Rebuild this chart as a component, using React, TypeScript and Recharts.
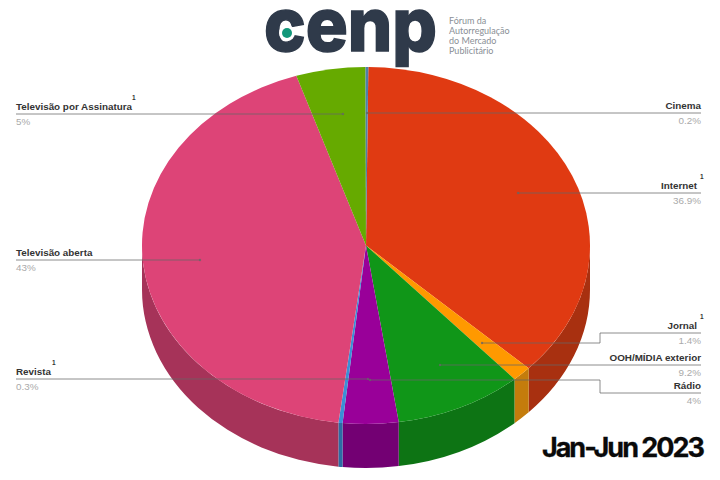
import { Pie, PieChart, Sector } from 'recharts';

const names = ['Internet', 'Jornal', 'OOH/MÍDIA exterior', 'Rádio', 'Revista', 'Televisão aberta', 'Televisão por Assinatura', 'Cinema'];
const shares = [36.9, 1.4, 9.2, 4, 0.3, 43, 5, 0.2];
const footnoted = [true, true, false, false, true, false, true, false];
const topColors = ['#E03A12', '#FF9900', '#109618', '#990099', '#3B8FD6', '#DD4477', '#66AA00', '#4F7FA8'];
const sideColors = ['#A83010', '#C47C0C', '#0D7414', '#730073', '#2C6CA4', '#A63359', '#4D8000', '#3A6080'];

const topRows = names.map((name, i) => ({ name, value: shares[i], fill: topColors[i] }));
const sideRows = names.map((name, i) => ({ name, value: shares[i], fill: sideColors[i] }));

const CX = 366;
const CY = 245.5;
const RX = 224;
const RY = 178.5;
const DEPTH = 44;
const START = 89.4;
const RIGHT_X = 701;
const LEFT_X = 16;

// leader path, dot and text level for each slice, same order as names
const leaders = [
  { d: 'M518 193H701', dot: [518, 193], y: 193, right: true, supX: 700 },
  { d: 'M482 343H600V333H701', dot: [482, 343], y: 333, right: true, supX: 700 },
  { d: 'M440 365H701', dot: [440, 365], y: 365, right: true, supX: 0 },
  { d: 'M370 380H600V393H701', dot: [370, 380], y: 393, right: true, supX: 0 },
  { d: 'M16 379H368', dot: [368, 379], y: 379, right: false, supX: 52 },
  { d: 'M16 260H200', dot: [200, 260], y: 260, right: false, supX: 0 },
  { d: 'M16 114H343', dot: [343, 114], y: 114, right: false, supX: 132 },
  { d: 'M367 113H701', dot: [367, 113], y: 113, right: true, supX: 0 },
];

const logoLines = ['Fórum da', 'Autorregulação', 'do Mercado', 'Publicitário'];

const rimPoint = (deg: number, dy = 0) => {
  const rad = (deg * Math.PI) / 180;
  return `${CX + RX * Math.cos(rad)} ${CY - RY * Math.sin(rad) + dy}`;
};

function TopSlice(props: any) {
  return (
    <g transform={`translate(${CX} ${CY}) scale(1 ${RY / RX}) translate(${-CX} ${-CY})`}>
      <Sector
        cx={CX}
        cy={CY}
        innerRadius={0}
        outerRadius={RX}
        startAngle={props.startAngle}
        endAngle={props.endAngle}
        fill={props.fill}
        stroke="none"
      />
    </g>
  );
}

function SideSlice(props: any) {
  const hi = Math.min(props.startAngle, 0);
  const lo = Math.max(props.endAngle, -180);
  if (hi <= lo) return <g />;
  const d = `M${rimPoint(hi)}A${RX} ${RY} 0 0 1 ${rimPoint(lo)}L${rimPoint(lo, DEPTH)}A${RX} ${RY} 0 0 0 ${rimPoint(hi, DEPTH)}Z`;
  return <path d={d} fill={props.fill} stroke="none" />;
}

const labelFont = '"Liberation Sans", Arial, sans-serif';

export default function App() {
  return (
    <div style={{ position: 'absolute', left: 0, top: 0, width: 720, height: 480, background: '#fff' }}>
      <PieChart width={720} height={480} margin={{ top: 0, right: 0, bottom: 0, left: 0 }}>
        <Pie
          data={sideRows}
          dataKey="value"
          cx={CX}
          cy={CY}
          outerRadius={RX}
          startAngle={START}
          endAngle={START - 360}
          stroke="none"
          shape={SideSlice}
          isAnimationActive={false}
        />
        <Pie
          data={topRows}
          dataKey="value"
          cx={CX}
          cy={CY}
          outerRadius={RX}
          startAngle={START}
          endAngle={START - 360}
          stroke="none"
          shape={TopSlice}
          isAnimationActive={false}
        />
      </PieChart>
      {/* labels sit in their own layer, the pie layer would paint over chart children */}
      <svg width={720} height={480} style={{ position: 'absolute', left: 0, top: 0 }}>
        {names.map((name, i) => {
          const l = leaders[i];
          const x = l.right ? (l.supX ? RIGHT_X - 4 : RIGHT_X) : LEFT_X;
          return (
            <g key={name} fontFamily={labelFont} fontSize={9.85} textAnchor={l.right ? 'end' : 'start'}>
              <path d={l.d} fill="none" stroke="#666" strokeOpacity={0.75} strokeWidth={1} />
              <circle cx={l.dot[0]} cy={l.dot[1]} r={1.2} fill="#666" fillOpacity={0.75} />
              <text x={x} y={l.y - 4.5} fontWeight="bold" fill="#333">
                {name}
              </text>
              <text x={l.right ? RIGHT_X : LEFT_X} y={l.y + 11} fill="#aaa">
                {shares[i]}%
              </text>
              {footnoted[i] && (
                <text x={l.supX} y={l.y - 14} fontSize={6.5} fontWeight="bold" fill="#333" textAnchor="start">
                  1
                </text>
              )}
            </g>
          );
        })}
        <text x={264} y={51} fontFamily="Inter, sans-serif" fontWeight="800" fontSize={74} fill="#2F3A4A" stroke="#2F3A4A" strokeWidth={1.5} textLength={173} lengthAdjust="spacingAndGlyphs">
          cenp
        </text>
        <circle cx={287} cy={33} r={8} fill="#fff" />
        <circle cx={287} cy={33} r={5} fill="#12977A" />
        {logoLines.map((line, i) => (
          <text key={line} x={449} y={24 + i * 10} fontFamily="Lato, sans-serif" fontSize={9} fill="#8A8F96">
            {line}
          </text>
        ))}
        <text x={703} y={457} textAnchor="end" fontFamily="Inter, sans-serif" fontWeight="700" fontSize={27} letterSpacing={-2} fill="#0A0A0A" stroke="#0A0A0A" strokeWidth={0.3}>
          Jan-Jun 2023
        </text>
      </svg>
    </div>
  );
}
